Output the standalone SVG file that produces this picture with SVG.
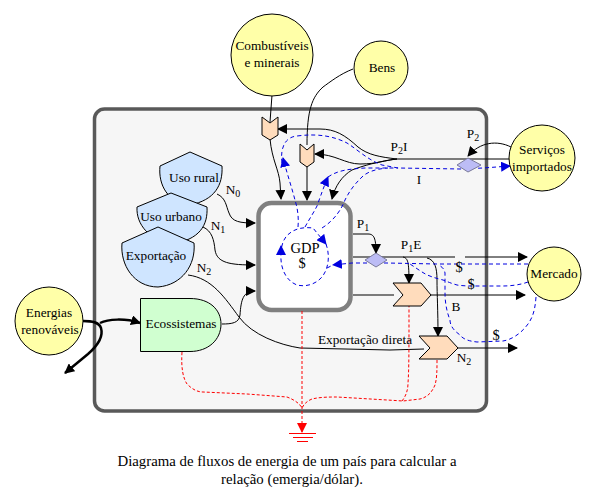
<svg xmlns="http://www.w3.org/2000/svg" width="596" height="493" viewBox="0 0 596 493">
<style>
text{font-family:"Liberation Serif","Times New Roman",serif;font-size:13.300px;fill:#000;text-anchor:middle}
.s{font-size:10px}
.c{font-size:14.800px}
.g{font-size:14.500px}
.src{fill:#ffffa8;stroke:#000;stroke-width:1}
.sh{fill:#cfe5ff;stroke:#000;stroke-width:1}
.pr{fill:#ffdcbc;stroke:#000;stroke-width:1}
.di{fill:#bcbcf5;stroke:#7a7a9a;stroke-width:1}
.k{fill:none;stroke:#000;stroke-width:1}
.b{fill:none;stroke:#0000e0;stroke-width:1;stroke-dasharray:4 3}
.r{fill:none;stroke:#f00;stroke-width:1;stroke-dasharray:3 2}
</style>
<defs>
<marker id="ak" markerUnits="userSpaceOnUse" markerWidth="10" markerHeight="10" refX="9" refY="5" orient="auto"><path d="M0 0L10 5L0 10Z" fill="#000"/></marker>
<marker id="ab" markerUnits="userSpaceOnUse" markerWidth="10" markerHeight="10" refX="9" refY="5" orient="auto"><path d="M0 0L10 5L0 10Z" fill="#0000e0"/></marker>
<marker id="ar" markerUnits="userSpaceOnUse" markerWidth="10" markerHeight="10" refX="9" refY="5" orient="auto"><path d="M0 0L10 5L0 10Z" fill="#f00"/></marker>
</defs>
<g id="system"><rect x="94.500" y="109" width="392" height="302" rx="10" fill="#f6f6f6" stroke="#595959" stroke-width="3.500"/></g>
<g id="gdp"><rect x="258.500" y="203" width="92" height="107" rx="13" fill="#fff" stroke="#808080" stroke-width="4.500"/><text class="g" x="305" y="253">GDP</text><text class="g" x="302" y="268">$</text></g>
<g id="connectors">
<path class="k" d="M272 95L270 122"/>
<path class="k" d="M270 139C272 160 279 170 280 183L281 199" marker-end="url(#ak)"/>
<path class="k" d="M353 69C340 74 330 82 323 87C312 97 307 110 307 145"/>
<path class="k" d="M307 167L307 200" marker-end="url(#ak)"/>
<path class="k" d="M510 159L397 159C380 157 368 155 358 147C345 135 335 129 320 129L278 129" marker-end="url(#ak)"/>
<path class="k" d="M397 159C385 160 378 164 360 164C345 164 335 154 315 154" marker-end="url(#ak)"/>
<path class="k" d="M397 159C380 161 362 166 352 170C342 176 335 186 332 199" marker-end="url(#ak)"/>
<path class="k" d="M511 147C497 140 480 142 468 156" marker-end="url(#ak)"/>
<path class="k" d="M217 194C226 198 226 206 229 213C232 222 240 223 255 223" marker-end="url(#ak)"/>
<path class="k" d="M203 227C212 231 214 240 215 250C217 263 230 265 255 265" marker-end="url(#ak)"/>
<path class="k" d="M188 275C212 278 225 298 239 317C252 335 280 345 300 348L390 350L424 349"/>
<path class="k" d="M222 324C232 324 239 323 240 315C241 300 243 291 255 291" marker-end="url(#ak)"/>
<path class="k" d="M353 234H368C374 234 376 238 376 253" marker-end="url(#ak)"/>
<path class="k" d="M353 257L455 257M465 257L527 257" marker-end="url(#ak)"/>
<path class="k" d="M403 257C408 258 409 262 409 283" marker-end="url(#ak)"/>
<path class="k" d="M427 258C435 260 437 268 437 280C437 295 438 310 438 336" marker-end="url(#ak)"/>
<path class="k" d="M353 295L394 295M430 295L525 295" marker-end="url(#ak)"/>
<path class="k" d="M457 348L517 348" marker-end="url(#ak)"/>
<path d="M83 321C92 321 99 322 101 328C104 338 96 347 88 354L65 373" fill="none" stroke="#000" stroke-width="2.500" marker-end="url(#ak)"/>
<path d="M100 323C108 319 125 318 140 323" fill="none" stroke="#000" stroke-width="2.500" marker-end="url(#ak)"/>
<path class="b" d="M298 227C299 215 297 207 295 200C291 185 286 170 283 158" marker-end="url(#ab)"/>
<path class="b" d="M282 163C280 148 285 137 297 136C320 133 335 137 347 143C358 150 368 160 382 165L398 168L460 169L483 168L510 166" marker-end="url(#ab)"/>
<path class="b" d="M305 227C310 218 314 212 317 206C321 195 324 186 328 177" marker-end="url(#ab)"/>
<path class="b" d="M328 177C338 170 350 169 365 168L398 168"/>
<path class="b" d="M322 228C335 220 342 208 345 200C350 190 355 184 360 179C366 172 375 169 388 168"/>
<path class="b" d="M281 254C281 245 284 237 290 233C296 228 305 227 313 228L326 244" marker-end="url(#ab)"/>
<path class="b" d="M281 254L281 246" marker-end="url(#ab)"/>
<path class="b" d="M326 244C330 255 329 268 322 277C315 285 305 287 297 285C286 281 280 268 281 254"/>
<path class="b" d="M528 264L437 264L387 263L352 263L333 265" marker-end="url(#ab)"/>
<path class="b" d="M327 268L333 265"/>
<path class="b" d="M528 282C520 285 510 286 503 286L477 286C470 286 463 286 457 285C450 283 446 281 443 280C435 278 428 276 422 272L410 264"/>
<path class="b" d="M536 297C535 310 533 317 528 324C520 335 510 340 503 341L477 342C468 341 463 339 460 335C453 330 450 325 450 320C446 310 445 300 445 293L445 273C444 268 441 266 438 265"/>
<path class="r" d="M302 311L302 432" marker-end="url(#ar)"/>
<path class="r" d="M182 352C181 368 183 378 187 384C193 390 198 392 203 392L247 394L287 397C295 400 300 404 302 408C304 404 307 401 312 399C320 397 330 397 337 397L387 400L403 401L420 399C428 397 432 392 435 385C437 378 437 370 437 360"/>
<path class="r" d="M402 401C406 396 408 390 408 383C409 370 409 350 409 306"/>
</g>
<g id="ground"><path d="M289 433.500H316M293 437.500H313M297 441.500H308" stroke="#f00" stroke-width="1" fill="none"/></g>
<g id="combustiveis"><circle class="src" cx="272" cy="55" r="41"/><text x="272" y="50">Combustíveis</text><text x="272" y="67">e minerais</text></g>
<g id="bens"><circle class="src" cx="381" cy="68" r="27"/><text x="382" y="72">Bens</text></g>
<g id="servicos"><circle class="src" cx="542" cy="158" r="33"/><text x="542" y="154">Serviços</text><text x="542" y="171">importados</text></g>
<g id="mercado"><circle class="src" cx="554" cy="274" r="27"/><text x="554" y="278">Mercado</text></g>
<g id="energias"><circle class="src" cx="49" cy="321" r="34"/><text x="49" y="317">Energias</text><text x="50" y="334">renováveis</text></g>
<g id="uso-rural"><path class="sh" d="M190 152L222 166C223 185 215 200 190 205C168 203 158 185 160 166Z"/><text x="194" y="182">Uso rural</text></g>
<g id="uso-urbano"><path class="sh" d="M171 193L207 207C208 225 200 240 171 244C150 240 136 225 137 207Z"/><text x="171" y="221">Uso urbano</text></g>
<g id="exportacao"><path class="sh" d="M158 227L194 243C196 265 182 285 158 287C134 287 120 265 122 243Z"/><text x="156" y="260">Exportação</text></g>
<g id="ecossistemas"><path d="M140.500 298.500H190C210 298.500 221 310 221 324C221 340 208 351.500 190 351.500H140.500Z" fill="#d0ffd0" stroke="#000"/><text x="181" y="328">Ecossistemas</text></g>
<g id="tanque1"><path class="pr" d="M262 117L270 123L278 117V135L270 140L262 135Z"/></g>
<g id="tanque2"><path class="pr" d="M300 144L307 150L314 144V162L307 167L300 162Z"/></g>
<g id="p2-diamond"><path class="di" d="M468 158L481 165L468 172L457 165Z"/></g>
<g id="p1-diamond"><path class="di" d="M376 253L387 260L376 267L365 260Z"/></g>
<g id="prod-b"><path class="pr" d="M393 283H421L431 295L421 306H393L403 295Z"/></g>
<g id="prod-n2"><path class="pr" d="M419 336H447L458 348L447 359H419L430 348Z"/></g>
<g id="labels">
<text x="233" y="194">N<tspan class="s" dy="3">0</tspan></text>
<text x="218" y="230">N<tspan class="s" dy="3">1</tspan></text>
<text x="204" y="272">N<tspan class="s" dy="3">2</tspan></text>
<text x="399" y="151">P<tspan class="s" dy="3">2</tspan><tspan dy="-3">I</tspan></text>
<text x="473" y="138">P<tspan class="s" dy="3">2</tspan></text>
<text x="419" y="184">I</text>
<text x="363" y="228">P<tspan class="s" dy="3">1</tspan></text>
<text x="411" y="249">P<tspan class="s" dy="3">1</tspan><tspan dy="-3">E</tspan></text>
<text class="g" x="459" y="272">$</text>
<text class="g" x="471" y="289">$</text>
<text x="456" y="311">B</text>
<text class="g" x="496" y="340">$</text>
<text x="365" y="344">Exportação direta</text>
<text x="464" y="362">N<tspan class="s" dy="3">2</tspan></text>
<text class="c" x="287" y="466">Diagrama de fluxos de energia de um país para calcular a</text>
<text class="c" x="292" y="484">relação (emergia/dólar).</text>
</g>
</svg>
